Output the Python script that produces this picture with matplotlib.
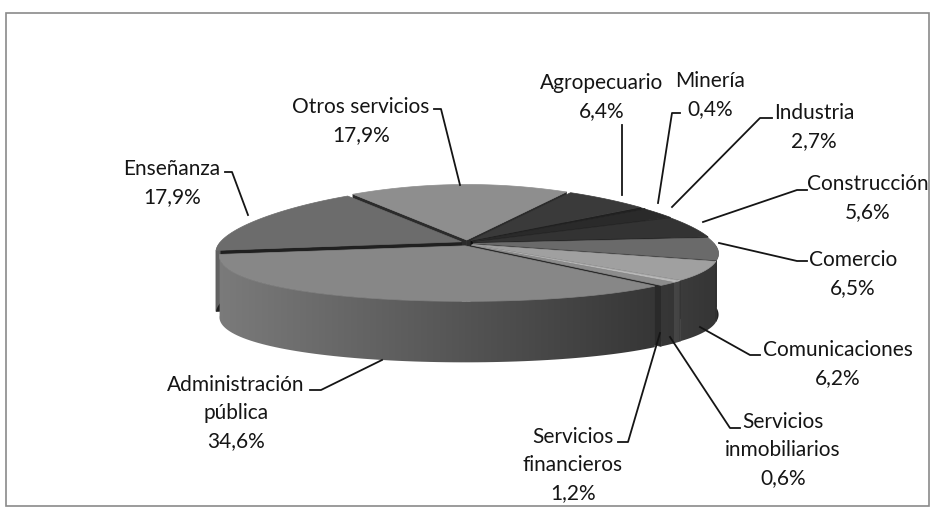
import matplotlib
matplotlib.use("Agg")
import matplotlib.pyplot as plt
import numpy as np
from matplotlib.patches import Polygon, Rectangle
from matplotlib.colors import to_rgb

# ----------------------------
# Data
# ----------------------------
sectores = ['Agropecuario', 'Minería', 'Industria', 'Construcción', 'Comercio',
            'Comunicaciones', 'Servicios\ninmobiliarios', 'Servicios\nfinancieros',
            'Administración\npública', 'Enseñanza', 'Otros servicios']
porcentajes = [6.4, 0.4, 2.7, 5.6, 6.5, 6.2, 0.6, 1.2, 34.6, 17.9, 17.9]
colores = ['#3a3a3a', '#222222', '#2a2a2a', '#333333', '#6a6a6a',
           '#a0a0a0', '#b8b8b8', '#8c8c8c', '#878787', '#6c6c6c', '#8e8e8e']

# ----------------------------
# Layout (pixel space)
# ----------------------------
W, H = 932, 512
cx, cy = 467, 243          # pie centre
rx, ry = 241, 55.5         # ellipse radii of the top face
depth = 61                 # wall height
explode = 6
persp = 0.2                # back of the pie drawn narrower than the front
start = 60.0               # degrees, slices run clockwise

# label block centres and leader polylines
label_pos = [(602, 97), (710, 95), (814, 127), (868, 198), (853, 274),
             (838, 364), (783, 450), (573, 465), (236, 413), (172, 183), (361, 121)]
leaders = [
    [(622, 125), (622, 195)],
    [(680, 113), (672, 113), (658, 203)],
    [(772, 118), (760, 118), (672, 207)],
    [(807, 190), (797, 190), (703, 222)],
    [(807, 261), (797, 261), (719, 243)],
    [(760, 355), (750, 355), (700, 327)],
    [(740, 428), (730, 428), (670, 337)],
    [(618, 442), (628, 442), (660, 333)],
    [(310, 390), (321, 390), (382, 360)],
    [(225, 172), (232, 172), (248, 215)],
    [(434, 109), (441, 109), (460, 185)],
]

fig = plt.figure(figsize=(W / 100, H / 100), dpi=100)
ax = fig.add_axes([0, 0, 1, 1])
ax.set_xlim(0, W)
ax.set_ylim(H, 0)
ax.axis('off')

ax.add_patch(Rectangle((6, 13), 923, 493, fill=False, edgecolor='#8a8a8a', linewidth=1.2))


def rim(t, ox, oy):
    r = np.radians(t)
    return (cx + ox + rx * np.cos(r) * (1 - persp * np.sin(r)),
            cy + oy - ry * np.sin(r))


def shade(color, f):
    return tuple(min(1, c * f) for c in to_rgb(color))


# slice angle ranges
spans = []
acc = start
for v in porcentajes:
    spans.append((acc - v * 3.6, acc))
    acc -= v * 3.6

# horizontal light falloff for the outer walls (lit from the left)
gx = np.linspace(cx - rx - 20, cx + rx + 20, 400)
gf = np.clip(0.62 - 0.28 * (gx - cx) / rx, 0, 1)

walls = []   # (sort key, kind, points, colour)
tops = []
for (a0, a1), col in zip(spans, colores):
    m = np.radians((a0 + a1) / 2)
    ox = explode * np.cos(m)
    oy = -explode * 0.5 * np.sin(m)
    c0 = (cx + ox, cy + oy)

    # outer wall: only the part in the front half of the ellipse
    for lo_f, hi_f in ((-180, 0), (180, 360), (-540, -360)):
        lo, hi = max(a0, lo_f), min(a1, hi_f)
        if hi - lo <= 0:
            continue
        ts = np.linspace(lo, hi, 80)
        top = [rim(t, ox, oy) for t in ts]
        bot = [(x, y + depth) for x, y in top[::-1]]
        key = np.mean([p[1] for p in top])
        walls.append((key, 'outer', top + bot, col))

    # radial walls facing the viewer
    for a, visible in ((a0, np.cos(np.radians(a0)) > 0), (a1, np.cos(np.radians(a1)) < 0)):
        if not visible:
            continue
        xr, yr = rim(a, ox, oy)
        pts = [c0, (xr, yr), (xr, yr + depth), (c0[0], c0[1] + depth)]
        walls.append(((c0[1] + yr) / 2, 'radial', pts, shade(col, 0.3)))

    arc = np.linspace(a1, a0, 120)
    tops.append(([c0] + [rim(t, ox, oy) for t in arc], col))

z = 1
for key, kind, pts, col in sorted(walls, key=lambda w: w[0]):
    if kind == 'outer':
        clip = Polygon(pts, closed=True, facecolor='none', edgecolor='none')
        ax.add_patch(clip)
        grad = np.array([[shade(col, f) for f in gf]])
        im = ax.imshow(grad, extent=(gx[0], gx[-1], cy + ry + depth + 20, cy - 20),
                       aspect='auto', interpolation='bilinear', zorder=z)
        im.set_clip_path(clip)
    else:
        ax.add_patch(Polygon(pts, closed=True, facecolor=col, edgecolor=col,
                             linewidth=0.5, zorder=z))
    z += 1

for pts, col in tops:
    ax.add_patch(Polygon(pts, closed=True, facecolor=col, edgecolor=col,
                         linewidth=0.5, zorder=z))

ax.set_xlim(0, W)
ax.set_ylim(H, 0)

# labels and leader lines
for name, v, (lx, ly), line in zip(sectores, porcentajes, label_pos, leaders):
    txt = name + '\n' + f"{v:.1f}".replace('.', ',') + '%'
    ax.text(lx, ly, txt, ha='center', va='center', multialignment='center',
            fontsize=15, family='Lato', color='#151515', linespacing=1.5, zorder=z + 2)
    xs, ys = zip(*line)
    ax.plot(xs, ys, color='#151515', linewidth=1.3, zorder=z + 1)

plt.savefig('out.png', dpi=100)
